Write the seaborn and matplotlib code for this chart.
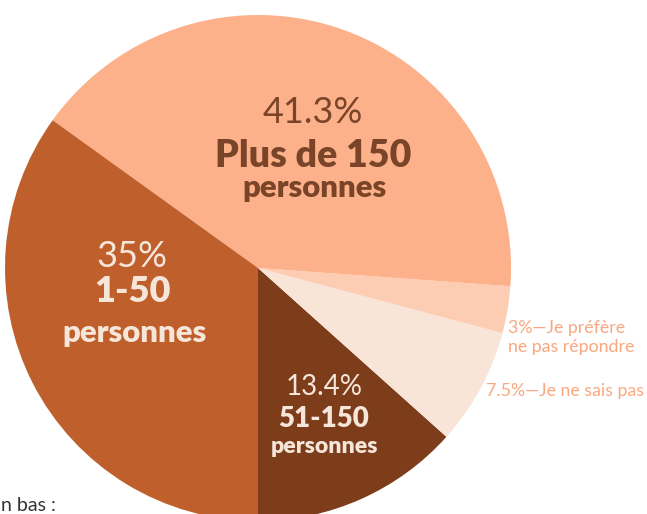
import matplotlib
matplotlib.use("Agg")
import matplotlib.pyplot as plt
import seaborn as sns

# Data (counter-clockwise from 6 o'clock)
categories = ["51-150 personnes", "Je ne sais pas", "Je préfère ne pas répondre",
              "Plus de 150 personnes", "1-50 personnes"]
values = [13.4, 7.5, 3.0, 41.3, 35.0]
pct_labels = ["13.4%", "7.5%", "3%", "41.3%", "35%"]

sns.set_theme(style="white")
plt.rcParams["font.family"] = ["Lato", "DejaVu Sans"]

colors = sns.color_palette(["#7D3D1B", "#F9E4D8", "#FDCDB3", "#FDB18A", "#BF5F2C"])

W, H = 647, 514
fig = plt.figure(figsize=(W / 100, H / 100), dpi=100)
cx, cy, r = 258, 268, 253
ax = fig.add_axes([(cx - r) / W, (H - cy - r) / H, 2 * r / W, 2 * r / H])
ax.pie(values, colors=colors, startangle=-90, counterclock=True, radius=1,
       wedgeprops=dict(linewidth=0))
ax.set_xlim(-1, 1)
ax.set_ylim(-1, 1)
ax.set_aspect("auto")
ax.axis("off")

dark = "#7A4428"
light = "#F6E6DA"
peach = "#F9A77E"
BOLD = "heavy"

def px(x, y):
    return (x - cx) / r, (cy - y) / r

# Plus de 150
ax.text(*px(313, 123), pct_labels[3], ha="center", va="baseline", fontsize=26,
        fontweight="normal", color=dark)
ax.text(*px(313, 167), "Plus de 150", ha="center", va="baseline", fontsize=27,
        fontweight=BOLD, color=dark)
ax.text(*px(314, 197), "personnes", ha="center", va="baseline", fontsize=22.4,
        fontweight=BOLD, color=dark)

# 1-50
ax.text(*px(132, 267), pct_labels[4], ha="center", va="baseline", fontsize=26,
        fontweight="normal", color=light)
ax.text(*px(132, 302), "1-50", ha="center", va="baseline", fontsize=26,
        fontweight=BOLD, color=light)
ax.text(*px(134, 342), "personnes", ha="center", va="baseline", fontsize=22.4,
        fontweight=BOLD, color=light)

# 51-150
ax.text(*px(324, 395), pct_labels[0], ha="center", va="baseline", fontsize=20,
        fontweight="normal", color=light)
ax.text(*px(324, 427), "51-150", ha="center", va="baseline", fontsize=20,
        fontweight=BOLD, color=light)
ax.text(*px(324, 453), "personnes", ha="center", va="baseline", fontsize=16.6,
        fontweight=BOLD, color=light)

# small outside labels
ax.text(*px(508, 333), pct_labels[2] + "—Je préfère", ha="left", va="baseline",
        fontsize=12.8, color=peach)
ax.text(*px(508, 352), "ne pas répondre", ha="left", va="baseline",
        fontsize=12.8, color=peach)
ax.text(*px(486, 396), pct_labels[1] + "—Je ne sais pas", ha="left", va="baseline",
        fontsize=12.8, color=peach)

fig.text(1 / W, (H - 511) / H, "n bas :", ha="left", va="baseline",
         fontsize=14, color="#333333")

fig.savefig("out.png", dpi=100)
